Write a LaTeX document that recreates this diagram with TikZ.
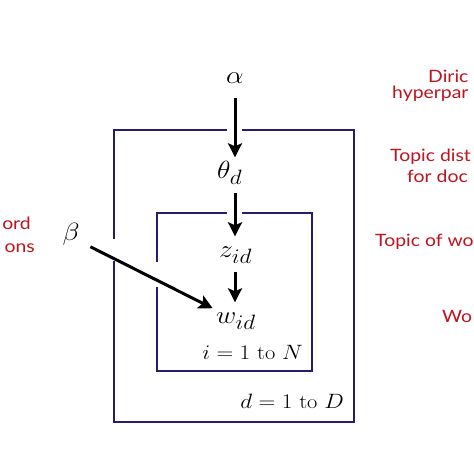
\documentclass[tikz,border=0pt]{standalone}
\usepackage{fontspec}
\newfontfamily\labelfont{Lato}
\usetikzlibrary{arrows.meta}
\DeclareMathSizes{26}{26}{20}{16}
\definecolor{platecol}{RGB}{38,28,110}
\definecolor{redlab}{RGB}{190,20,30}
\tikzset{
  var/.style={inner sep=0pt, text height=11pt, text depth=4pt, xscale=1.12, font=\fontsize{26}{30}\selectfont},
  arr/.style={line width=3pt, -{Stealth[length=14pt,width=14pt,inset=3pt]}, shorten <=10pt, shorten >=10pt},
  plate/.style={line width=2.2pt, color=platecol},
  platelab/.style={inner sep=0pt, anchor=east, xscale=1.12, font=\fontsize{20}{24}\selectfont},
  redtxt/.style={inner sep=0pt, text=redlab, xscale=1.14, font=\labelfont\fontsize{17}{20}\selectfont}
}
\begin{document}
\begin{tikzpicture}[x=1pt,y=-1pt]
\useasboundingbox (0,0) rectangle (474,474);
\clip (0,0) rectangle (474,474);
\fill[white] (0,0) rectangle (474,474);
% plates
\draw[plate] (227,130) -- (114,130) -- (114,239);
\draw[plate] (114,261) -- (114,422) -- (354,422) -- (354,130) -- (242,130);
\draw[plate] (227,213) -- (157,213) -- (157,262);
\draw[plate] (157,287) -- (157,371) -- (312,371) -- (312,213) -- (242,213);
% variables
\node[var] (alpha) at (235,80) {$\alpha$};
\node[var,anchor=west] (theta) at (217,175) {$\theta_d$};
\node[var,anchor=west] (z) at (219,254) {$z_{id}$};
\node[var,anchor=west] (w) at (216,320) {$w_{id}$};
\node[var] (beta) at (71,237) {$\beta$};
% arrows
\draw[arr] (alpha.south) -- (alpha.south |- theta.north);
\draw[arr] (alpha.south |- theta.south) -- (alpha.south |- z.north);
\draw[arr] (alpha.south |- z.south) -- (alpha.south |- w.north);
\draw[arr,shorten <=12pt,shorten >=9pt] (beta) -- (w);
% plate labels
\node[platelab] (ilab) at (303,352) {$i=1$ to $N$};
\node[platelab] (dlab) at (344,401) {$d=1$ to $D$};
% red labels
\node[redtxt,anchor=west] (l1) at (428,76) {Diric};
\node[redtxt,anchor=west] (l2) at (392,94) {hyperpar};
\node[redtxt,anchor=west] (l3) at (390,157) {Topic dist};
\node[redtxt,anchor=west] (l4) at (407,176) {for doc};
\node[redtxt,anchor=west] (l5) at (375,242) {Topic of wo};
\node[redtxt,anchor=west] (l6) at (442,316) {Wo};
\node[redtxt,anchor=east] (l7) at (31,223) {ord};
\node[redtxt,anchor=east] (l8) at (35,248) {ons};
\end{tikzpicture}
\end{document}
